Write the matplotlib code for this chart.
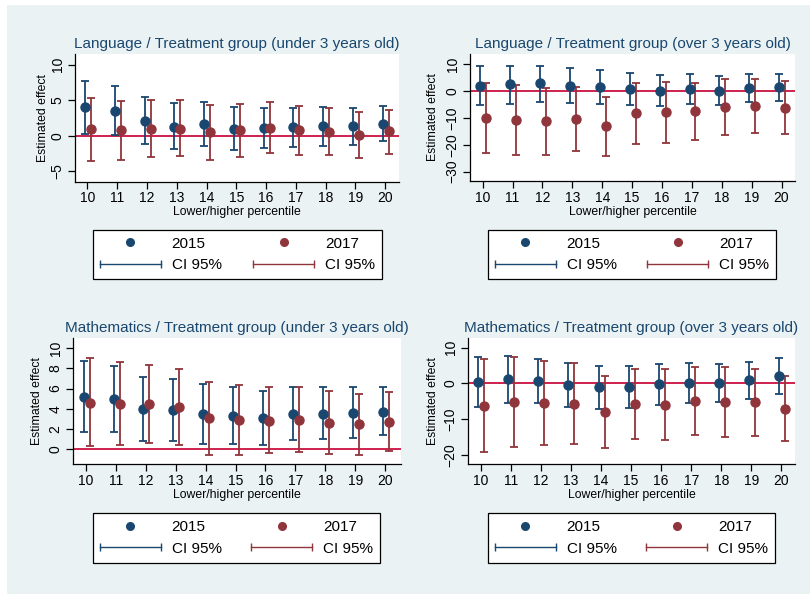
import matplotlib
matplotlib.use("Agg")
import matplotlib.pyplot as plt
from matplotlib.lines import Line2D
from matplotlib.patches import Rectangle
from matplotlib.legend_handler import HandlerLine2D

plt.rcParams['font.family'] = ['Liberation Sans', 'DejaVu Sans']

# Percentile cut-offs on the x axis
percentiles = [10, 11, 12, 13, 14, 15, 16, 17, 18, 19, 20]

# Language, under 3 years old
lang_u3_2015 = [3.99, 3.47, 2.07, 1.27, 1.64, 0.99, 1.03, 1.17, 1.31, 1.31, 1.69]
lang_u3_2015_lo = [0.23, 0.05, -1.22, -1.92, -1.46, -2.02, -1.78, -1.64, -1.46, -1.31, -0.80]
lang_u3_2015_hi = [7.75, 7.04, 5.45, 4.55, 4.79, 4.04, 3.94, 3.94, 4.04, 3.94, 4.18]
lang_u3_2017 = [0.89, 0.75, 0.94, 0.94, 0.47, 0.80, 1.03, 0.75, 0.56, 0.05, 0.61]
lang_u3_2017_lo = [-3.57, -3.47, -3.00, -2.91, -3.38, -2.96, -2.44, -2.72, -2.77, -3.10, -2.54]
lang_u3_2017_hi = [5.35, 4.93, 5.07, 4.98, 4.32, 4.51, 4.69, 4.13, 3.85, 3.29, 3.62]

# Language, over 3 years old
lang_o3_2015 = [2.1, 2.6, 2.9, 2.0, 1.6, 0.75, 0.25, 1.0, 0.25, 1.1, 1.4]
lang_o3_2015_lo = [-5.1, -4.6, -3.9, -4.4, -4.9, -5.2, -5.4, -4.6, -5.1, -4.1, -3.7]
lang_o3_2015_hi = [9.46, 9.46, 9.46, 8.6, 8.1, 6.7, 6.1, 6.6, 5.7, 6.5, 6.6]
lang_o3_2017 = [-9.8, -10.8, -11.2, -10.5, -13.1, -8.3, -7.8, -7.5, -6.0, -5.5, -6.1]
lang_o3_2017_lo = [-22.9, -23.8, -23.7, -22.4, -24.2, -19.7, -19.2, -18.2, -16.3, -15.4, -15.9]
lang_o3_2017_hi = [3.2, 2.4, 1.2, 1.7, -2.0, 3.2, 3.4, 3.2, 4.6, 4.6, 3.9]

# Mathematics, under 3 years old
math_u3_2015 = [5.21, 4.98, 3.96, 3.86, 3.50, 3.33, 3.07, 3.50, 3.50, 3.60, 3.73]
math_u3_2015_lo = [1.75, 1.68, 0.79, 0.83, 0.56, 0.53, 0.40, 0.89, 0.99, 1.16, 1.39]
math_u3_2015_hi = [8.71, 8.28, 7.13, 6.93, 6.47, 6.17, 5.78, 6.11, 6.11, 6.11, 6.11]
math_u3_2017 = [4.62, 4.49, 4.52, 4.19, 3.04, 2.90, 2.81, 2.94, 2.57, 2.48, 2.74]
math_u3_2017_lo = [0.30, 0.43, 0.66, 0.46, -0.56, -0.56, -0.36, -0.23, -0.50, -0.53, -0.13]
math_u3_2017_hi = [8.98, 8.65, 8.32, 7.92, 6.67, 6.40, 6.17, 6.20, 5.71, 5.51, 5.68]

# Mathematics, over 3 years old
math_o3_2015 = [0.28, 1.21, 0.56, -0.37, -1.0, -1.0, -0.28, 0.19, 0.19, 0.84, 2.05]
math_o3_2015_lo = [-6.6, -5.4, -5.5, -6.5, -7.1, -7.0, -6.2, -5.5, -5.1, -4.4, -2.9]
math_o3_2015_hi = [7.36, 7.7, 6.8, 5.7, 4.9, 4.75, 5.5, 5.7, 5.5, 6.0, 7.1]
math_o3_2017 = [-6.3, -5.3, -5.6, -5.7, -8.0, -5.9, -6.1, -5.0, -5.2, -5.3, -7.3]
math_o3_2017_lo = [-19.2, -17.8, -17.2, -17.0, -18.1, -15.5, -16.0, -14.4, -14.9, -14.7, -16.2]
math_o3_2017_hi = [6.7, 7.5, 6.2, 5.6, 2.1, 3.9, 4.1, 4.6, 4.5, 4.1, 1.96]

titles = [
    "Language / Treatment group (under 3 years old)",
    "Language / Treatment group (over 3 years old)",
    "Mathematics / Treatment group (under 3 years old)",
    "Mathematics / Treatment group (over 3 years old)",
]
year_labels = ["2015", "2017"]
ci_label = "CI 95%"
x_label = "Lower/higher percentile"
y_label = "Estimated effect"

W, H = 810, 594
BG = "#eaf2f3"
BLUE = "#1a476f"
RED = "#90353b"
ZERO = "#cc1040"

fig = plt.figure(figsize=(W / 100, H / 100), dpi=100, facecolor="white")
fig.patches.append(Rectangle((7 / W, 0), 1, 1 - 5 / H, transform=fig.transFigure,
                             facecolor=BG, edgecolor="none", zorder=-10))


def px_rect(l, t, r, b):
    return [l / W, 1 - b / H, (r - l) / W, (b - t) / H]


panels = [
    dict(rect=(75, 54, 399, 181.5), ylim=(-6.44, 11.49), yticks=[-5, 0, 5, 10], xlim=(9.58, 20.47),
         ylab_x=43, leg=(93, 229, 382, 280),
         s15=(lang_u3_2015, lang_u3_2015_lo, lang_u3_2015_hi),
         s17=(lang_u3_2017, lang_u3_2017_lo, lang_u3_2017_hi)),
    dict(rect=(470, 54, 795, 181), ylim=(-33.5, 13.9), yticks=[-30, -20, -10, 0, 10], xlim=(9.575, 20.45),
         ylab_x=433, leg=(488, 228, 776, 281),
         s15=(lang_o3_2015, lang_o3_2015_lo, lang_o3_2015_hi),
         s17=(lang_o3_2017, lang_o3_2017_lo, lang_o3_2017_hi)),
    dict(rect=(73, 338, 401, 464), ylim=(-1.46, 11.0), yticks=[0, 2, 4, 6, 8, 10], xlim=(9.565, 20.53),
         ylab_x=37, leg=(93, 512, 380, 564),
         s15=(math_u3_2015, math_u3_2015_lo, math_u3_2015_hi),
         s17=(math_u3_2017, math_u3_2017_lo, math_u3_2017_hi)),
    dict(rect=(468, 338, 795, 464), ylim=(-22.6, 12.7), yticks=[-20, -10, 0, 10], xlim=(9.58, 20.45),
         ylab_x=433, leg=(488, 512, 775, 564),
         s15=(math_o3_2015, math_o3_2015_lo, math_o3_2015_hi),
         s17=(math_o3_2017, math_o3_2017_lo, math_o3_2017_hi)),
]

for title, p in zip(titles, panels):
    l, t, r, b = p["rect"]
    ax = fig.add_axes(px_rect(l, t, r, b))
    ax.set_facecolor("white")
    for side in ("top", "right"):
        ax.spines[side].set_visible(False)
    for side in ("left", "bottom"):
        ax.spines[side].set_linewidth(0.9)
        ax.spines[side].set_color("black")

    ax.axhline(0, color=ZERO, lw=1.3, zorder=1)

    for (est, lo, hi), color, off in ((p["s15"], BLUE, -0.08), (p["s17"], RED, 0.12)):
        xs = [x + off for x in percentiles]
        yerr = [[e - a for e, a in zip(est, lo)], [c - e for e, c in zip(est, hi)]]
        ax.errorbar(xs, est, yerr=yerr, fmt="none", ecolor=color, elinewidth=1.3,
                    capsize=2.9, capthick=1.3, zorder=2)
        ax.plot(xs, est, "o", color=color, ms=6.5, mec=color, zorder=3)

    ax.set_xlim(*p["xlim"])
    ax.set_ylim(*p["ylim"])
    ax.set_xticks(percentiles)
    ax.set_yticks(p["yticks"])
    ax.tick_params(axis="both", direction="out", length=5, width=0.9, labelsize=10, colors="black")
    ax.tick_params(axis="x", pad=2.0)
    ax.tick_params(axis="y", pad=2.5)
    for lab in ax.get_yticklabels():
        lab.set_rotation(90)
        lab.set_va("center")
        lab.set_ha("right")

    ax.set_title(title, color=BLUE, fontsize=11, pad=4.5)
    ax.set_xlabel(x_label, fontsize=8.8, va="center")
    ax.xaxis.set_label_coords(0.5, -31.0 / (b - t))
    ax.set_ylabel(y_label, fontsize=8.8, va="center")
    ax.yaxis.set_label_coords(-(l - p["ylab_x"]) / (r - l), 0.5)

    h15 = Line2D([], [], marker="o", ls="none", color=BLUE, ms=5.5)
    c15 = Line2D([], [], marker="|", color=BLUE, lw=1.0, ms=5.5, mew=1.0)
    h17 = Line2D([], [], marker="o", ls="none", color=RED, ms=5.5)
    c17 = Line2D([], [], marker="|", color=RED, lw=1.0, ms=5.5, mew=1.0)
    ll, lt, lr, lb = p["leg"]
    leg = fig.legend([h15, c15, h17, c17], [year_labels[0], ci_label, year_labels[1], ci_label],
                     ncol=2, loc="center", mode="expand",
                     bbox_to_anchor=(ll / W, 1 - lb / H, (lr - ll) / W, (lb - lt) / H),
                     fontsize=11, frameon=True, fancybox=False, framealpha=1,
                     edgecolor="black", facecolor="white", handlelength=4.0,
                     handletextpad=0.7, labelspacing=0.5, borderpad=0.45,
                     borderaxespad=0.0,
                     handler_map={c15: HandlerLine2D(numpoints=2, marker_pad=0),
                                  c17: HandlerLine2D(numpoints=2, marker_pad=0)})
    leg.get_frame().set_linewidth(0.9)

fig.savefig("out.png", dpi=100, facecolor=fig.get_facecolor())
